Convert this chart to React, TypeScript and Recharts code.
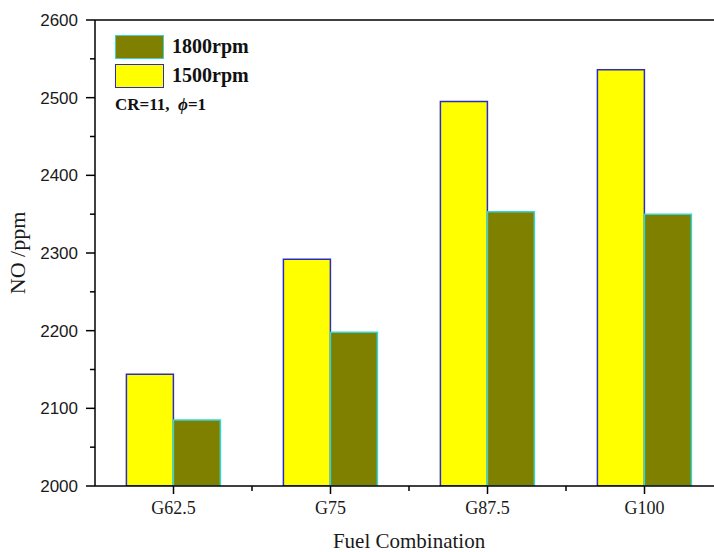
import { BarChart, Bar, XAxis, YAxis, Legend, ReferenceLine } from 'recharts';

// fuel blends on the x axis
const categories = ['G62.5', 'G75', 'G87.5', 'G100'];
// NO emission (ppm)
const rpm1500 = [2144, 2292, 2495, 2536];
const rpm1800 = [2085, 2198, 2353, 2350];
// y ticks every 50, labels only on the hundreds
const yTicks = [2000, 2050, 2100, 2150, 2200, 2250, 2300, 2350, 2400, 2450, 2500, 2550, 2600];

const CHART_W = 740;
const CHART_H = 552;
const M = { top: 20, right: 17, left: 0, bottom: 0 };
const Y_W = 95;
const BAND = (CHART_W - M.right - Y_W) / categories.length;

const data = categories.map((name, i) => ({
  name,
  r1500: rpm1500[i],
  r1800: rpm1800[i],
}));

const serif = "'Liberation Serif', 'Times New Roman', serif";

const XTick = (props: any) => {
  const { x, y, payload } = props;
  const half = BAND / 2;
  return (
    <g>
      <line x1={x} x2={x} y1={y} y2={y + 8} stroke="#000" strokeWidth={1.5} />
      <line x1={x + half} x2={x + half} y1={y} y2={y + 5} stroke="#000" strokeWidth={1.5} />
      <text x={x} y={y + 28} textAnchor="middle" fontFamily={serif} fontSize={18} fill="#1a1a1a">
        {payload.value}
      </text>
    </g>
  );
};

const YTick = (props: any) => {
  const { x, y, payload } = props;
  const major = payload.value % 100 === 0;
  return (
    <g>
      <line x1={x - (major ? 9 : 5)} x2={x} y1={y} y2={y} stroke="#000" strokeWidth={1.5} />
      {major && (
        <text x={x - 17} y={y + 6} textAnchor="end" fontFamily="'Liberation Sans', Arial, sans-serif" fontSize={17} fill="#1a1a1a">
          {payload.value}
        </text>
      )}
    </g>
  );
};

// y axis title, rotated and centred on the plot height
const YTitle = (props: any) => {
  const vb = props.viewBox || {};
  const cx = 25;
  const cy = (vb.y ?? 20) + (vb.height ?? 466) / 2;
  return (
    <text
      x={cx}
      y={cy}
      transform={`rotate(-90 ${cx} ${cy})`}
      textAnchor="middle"
      fontFamily={serif}
      fontSize={22}
      fill="#1a1a1a"
    >
      NO /ppm
    </text>
  );
};

const LegendBox = (props: any) => {
  const items = [...(props.payload || [])].reverse();
  return (
    <div style={{ fontFamily: serif, fontWeight: 'bold', color: '#111' }}>
      {items.map((it: any) => (
        <div key={it.value} style={{ display: 'flex', alignItems: 'center', height: 29 }}>
          <div
            style={{
              width: 49,
              height: 24,
              background: it.payload.fill,
              border: `1.5px solid ${it.payload.stroke}`,
              boxSizing: 'border-box',
              marginRight: 8,
            }}
          />
          <span style={{ fontSize: 20 }}>{it.value}</span>
        </div>
      ))}
      <div style={{ fontSize: 17, marginTop: 5 }}>
        CR=11,&nbsp;&nbsp;<i>ϕ</i>=1
      </div>
    </div>
  );
};

export default function App() {
  return (
    <div style={{ position: 'absolute', left: 0, top: 0, width: 714, height: 552, overflow: 'hidden', background: '#fff' }}>
      <BarChart width={CHART_W} height={CHART_H} data={data} margin={M} barCategoryGap="20%" barGap={0}>
        <XAxis
          dataKey="name"
          height={66}
          tickSize={0}
          tickMargin={0}
          tickLine={false}
          tick={<XTick />}
          interval={0}
          axisLine={{ stroke: '#000', strokeWidth: 1.5 }}
          label={{
            value: 'Fuel Combination',
            position: 'insideBottom',
            offset: 4,
            fontFamily: serif,
            fontSize: 21,
            fill: '#1a1a1a',
          }}
        />
        <YAxis
          width={Y_W}
          domain={[2000, 2600]}
          ticks={yTicks}
          interval={0}
          allowDataOverflow
          tickSize={0}
          tickMargin={0}
          tickLine={false}
          tick={<YTick />}
          axisLine={{ stroke: '#000', strokeWidth: 1.5 }}
          label={{ content: <YTitle /> }}
        />
        <ReferenceLine y={2600} stroke="#000" strokeWidth={1.5} />
        <Legend
          layout="vertical"
          align="center"
          verticalAlign="middle"
          content={<LegendBox />}
          wrapperStyle={{ left: 115, top: 32, width: 220 }}
        />
        <Bar dataKey="r1500" name="1500rpm" fill="#ffff00" stroke="#2b2bc8" strokeWidth={1.5} isAnimationActive={false} />
        <Bar dataKey="r1800" name="1800rpm" fill="#808000" stroke="#33d6d6" strokeWidth={1.5} isAnimationActive={false} />
      </BarChart>
    </div>
  );
}
